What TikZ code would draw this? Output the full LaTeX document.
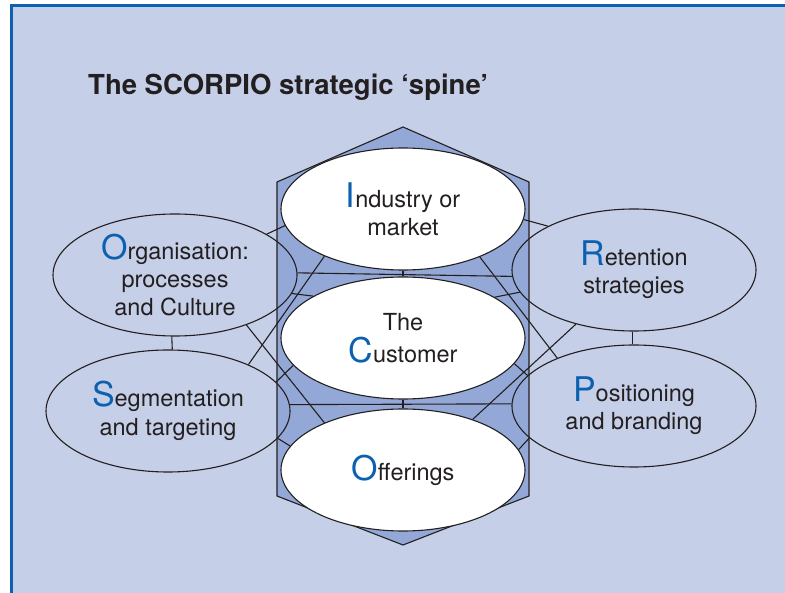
\documentclass[tikz,border=0pt]{standalone}
\usepackage{fontspec}
\setmainfont{TeX Gyre Heros}
\usepackage{tikz}
\usetikzlibrary{shapes.geometric}
\definecolor{bgblue}{RGB}{197,207,232}
\definecolor{hexblue}{RGB}{147,168,214}
\definecolor{rimblue}{RGB}{16,96,176}
\definecolor{capblue}{RGB}{12,96,176}
\definecolor{ink}{RGB}{35,31,32}
\newcommand{\initial}[1]{{\color{capblue}\fontsize{34}{28}\selectfont #1}}

\begin{document}
\begin{tikzpicture}[x=1pt,y=-1pt,
    spine/.style={ellipse,draw=ink,line width=1.1pt,fill=white,minimum width=244pt,minimum height=122pt,inner sep=0pt,align=center,text=ink,font=\fontsize{23.5}{28.3}\selectfont},
    side/.style={spine,fill=none},
    link/.style={draw=ink,line width=1.1pt}]
\useasboundingbox (0,0) rectangle (785,593);
\fill[white] (0,0) rectangle (785,593);
\fill[bgblue] (11,5) rectangle (785,593);
\draw[rimblue,line width=2.6pt] (11.3,593) -- (11.3,5.3) -- (785,5.3);
\node[anchor=base west,inner sep=0pt,text=ink,font=\fontsize{27.5}{32}\selectfont\bfseries] (title) at (88,95) {The SCORPIO strategic ‘spine’};
\filldraw[fill=hexblue,draw=ink,line width=1.1pt] (403,127) -- (277,182) -- (277,496) -- (403,545) -- (529,496) -- (529,182) -- cycle;
\node[side] (O) at (175,275) {\initial{O}rganisation:\\processes\\and Culture};
\node[side] (S) at (168,411) {\initial{S}egmentation\\and targeting};
\node[spine] (I) at (403,209) {\initial{I}ndustry or\\market};
\node[spine] (C) at (403,338) {The\\[4pt]\initial{C}ustomer};
\node[spine] (F) at (403,470) {\initial{O}fferings};
\node[side] (R) at (634,270) {\initial{R}etention\\strategies};
\node[side] (P) at (634,406) {\initial{P}ositioning\\and branding};
\draw[link] (O.24) -- (I.188.5);
\draw[link] (O.-9) -- (C.155);
\draw[link] (O.-35) -- (F.149);
\draw[link] (S.30) -- (I.211);
\draw[link] (S.15) -- (C.194);
\draw[link] (S.-14) -- (F.168);
\draw[link] (R.153) -- (I.-5);
\draw[link] (R.191) -- (C.24);
\draw[link] (R.223) -- (F.36);
\draw[link] (P.148) -- (I.-32);
\draw[link] (P.164.5) -- (C.-13);
\draw[link] (P.197) -- (F.10);
\draw[link] (O.1.5) -- (R.183);
\draw[link] (S.3) -- (P.179.5);
\draw[link] (I.south) -- (C.north);
\draw[link] (C.south) -- (F.north);
\draw[link] (O.-93) -- (S.86.5);
\draw[link] (R.-91.5) -- (P.91);
\end{tikzpicture}
\end{document}
